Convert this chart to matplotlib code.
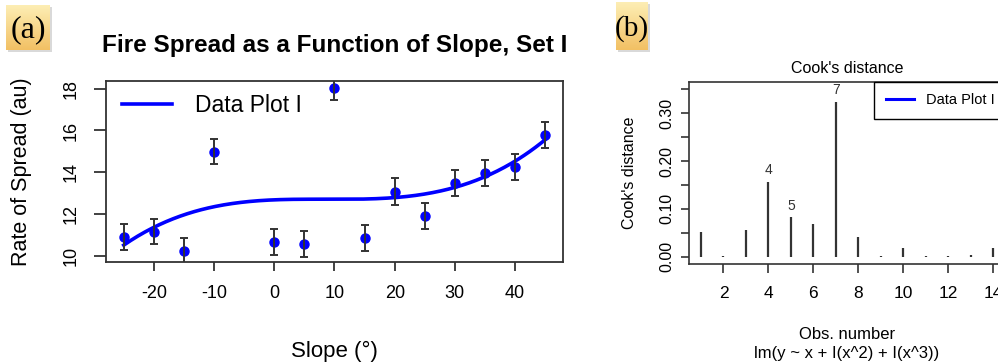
import numpy as np
import matplotlib
matplotlib.use("Agg")
import matplotlib.pyplot as plt
from matplotlib.patches import Rectangle
from matplotlib.colors import LinearSegmentedColormap

plt.rcParams['font.family'] = ['Liberation Sans', 'DejaVu Sans']
plt.rcParams['axes.unicode_minus'] = False

# ---------------------------------------------------------
# Data
# ---------------------------------------------------------
slope = [-25, -20, -15, -10, 0, 5, 10, 15, 20, 25, 30, 35, 40, 45]
spread = [10.91, 11.15, 10.22, 14.98, 10.66, 10.56, 18.05, 10.85,
          13.07, 11.88, 13.50, 13.97, 14.26, 15.78]
spread_err = [0.63, 0.61, 0.62, 0.60, 0.63, 0.63, 0.60, 0.64,
              0.63, 0.62, 0.62, 0.62, 0.62, 0.62]

obs = list(range(1, 15))
cooks = [0.052, 0.002, 0.056, 0.157, 0.082, 0.068, 0.324, 0.042,
         0.002, 0.019, 0.001, 0.001, 0.003, 0.018]
cook_labels = {4: "4", 5: "5", 7: "7"}

BLUE = '#0000ff'
DARK = '#333333'


def tag_box(fig, x0, y0, w, h, text, fs):
    # gold gradient label box like "(a)" / "(b)"
    W, H = 998.0, 364.0
    sh = fig.add_axes([(x0 + 2) / W, (H - y0 - h - 2) / H, w / W, h / H])
    sh.add_patch(Rectangle((0, 0), 1, 1, color='#d9d9d9'))
    sh.axis('off')
    bx = fig.add_axes([x0 / W, (H - y0 - h) / H, w / W, h / H])
    grad = np.linspace(0, 1, 64)[:, None]
    cmap = LinearSegmentedColormap.from_list('g', ['#fdeeb4', '#f2c064'])
    bx.imshow(grad, aspect='auto', cmap=cmap, extent=[0, 1, 0, 1],
              origin='upper')
    bx.set_xlim(0, 1)
    bx.set_ylim(0, 1)
    bx.axis('off')
    bx.text(0.5, 0.45, text, ha='center', va='center', fontsize=fs,
            family='Liberation Serif', color='black')


fig = plt.figure(figsize=(9.98, 3.64), dpi=100)

# ---------------------------------------------------------
# (a) Fire spread vs slope
# ---------------------------------------------------------
ax = fig.add_axes([0.1059, 0.2810, 0.4585, 0.4965])
coef = np.polyfit(slope, spread, 3)
xs = np.linspace(min(slope), max(slope), 300)
ax.plot(xs, np.polyval(coef, xs), color=BLUE, lw=2.6, label='Data Plot I',
        zorder=2)
ax.plot(slope, spread, 'o', color=BLUE, ms=6.5, zorder=3)
ax.errorbar(slope, spread, yerr=spread_err, fmt='none', ecolor=DARK,
            elinewidth=1.4, capsize=3.2, capthick=1.4, zorder=4)

ax.set_xlim(-28, 48)
ax.set_ylim(9.71, 18.37)
ax.set_xticks([-20, -10, 0, 10, 20, 30, 40])
ax.set_yticks([10, 12, 14, 16, 18])
ax.set_yticklabels(['10', '12', '14', '16', '18'], rotation=90, va='center')
ax.tick_params(axis='y', length=9, width=1.3, color=DARK, labelsize=13,
               pad=10)
ax.tick_params(axis='x', length=6.5, width=1.3, color=DARK, labelsize=13,
               pad=10)
for s in ax.spines.values():
    s.set_linewidth(1.3)
    s.set_color(DARK)
ax.set_xlabel('Slope (°)', fontsize=16, labelpad=28)
ax.set_ylabel('Rate of Spread (au)', fontsize=15.5, labelpad=22)
ax.set_title('Fire Spread as a Function of Slope, Set I', fontsize=17.5,
             fontweight='bold', pad=21)
ax.legend(loc='upper left', bbox_to_anchor=(0.035, 0.93), frameon=False,
          fontsize=16.5, handlelength=2.2, handletextpad=1.0, borderpad=0,
          borderaxespad=0)

# ---------------------------------------------------------
# (b) Cook's distance
# ---------------------------------------------------------
bx = fig.add_axes([0.6907, 0.2747, 0.3161, 0.5008])
bx.vlines(obs, 0, cooks, color=DARK, lw=1.6, label='_nolegend_')
for i, lab in cook_labels.items():
    bx.text(i, cooks[i - 1] + 0.01, lab, ha='center', va='bottom',
            fontsize=10, color=DARK)
bx.plot([], [], color=BLUE, lw=2.2, label='Data Plot I')
bx.set_xlim(0.48, 14.52)
bx.set_ylim(-0.0153, 0.366)
bx.set_xticks([2, 4, 6, 8, 10, 12, 14])
bx.set_yticks([0, 0.05, 0.10, 0.15, 0.20, 0.25, 0.30, 0.35])
bx.set_yticklabels(['0.00', '', '0.10', '', '0.20', '', '0.30', ''],
                   rotation=90, va='center')
bx.tick_params(axis='y', length=6, width=1.2, color=DARK, labelsize=11.5,
               pad=5)
bx.tick_params(axis='x', length=6.5, width=1.2, color=DARK, labelsize=12.5,
               pad=9)
for s in bx.spines.values():
    s.set_linewidth(1.2)
    s.set_color(DARK)
bx.set_title("Cook's distance", fontsize=11.5, pad=6)
bx.set_ylabel("Cook's distance", fontsize=11.5, labelpad=16)
bx.set_xlabel("Obs. number\nlm(y ~ x + I(x^2) + I(x^3))", fontsize=12,
              labelpad=19, linespacing=1.35)
leg = bx.legend(loc='upper left', bbox_to_anchor=(0.586, 1.0), fontsize=10.5,
                fancybox=False, edgecolor='black', framealpha=1,
                handlelength=1.9, handletextpad=0.85, borderpad=0.8,
                borderaxespad=0)
leg.get_frame().set_linewidth(1.0)

tag_box(fig, 6, 5, 44, 45, '(a)', 23)
tag_box(fig, 616, 2, 32, 48, '(b)', 21)

fig.savefig('out.png', dpi=100)
